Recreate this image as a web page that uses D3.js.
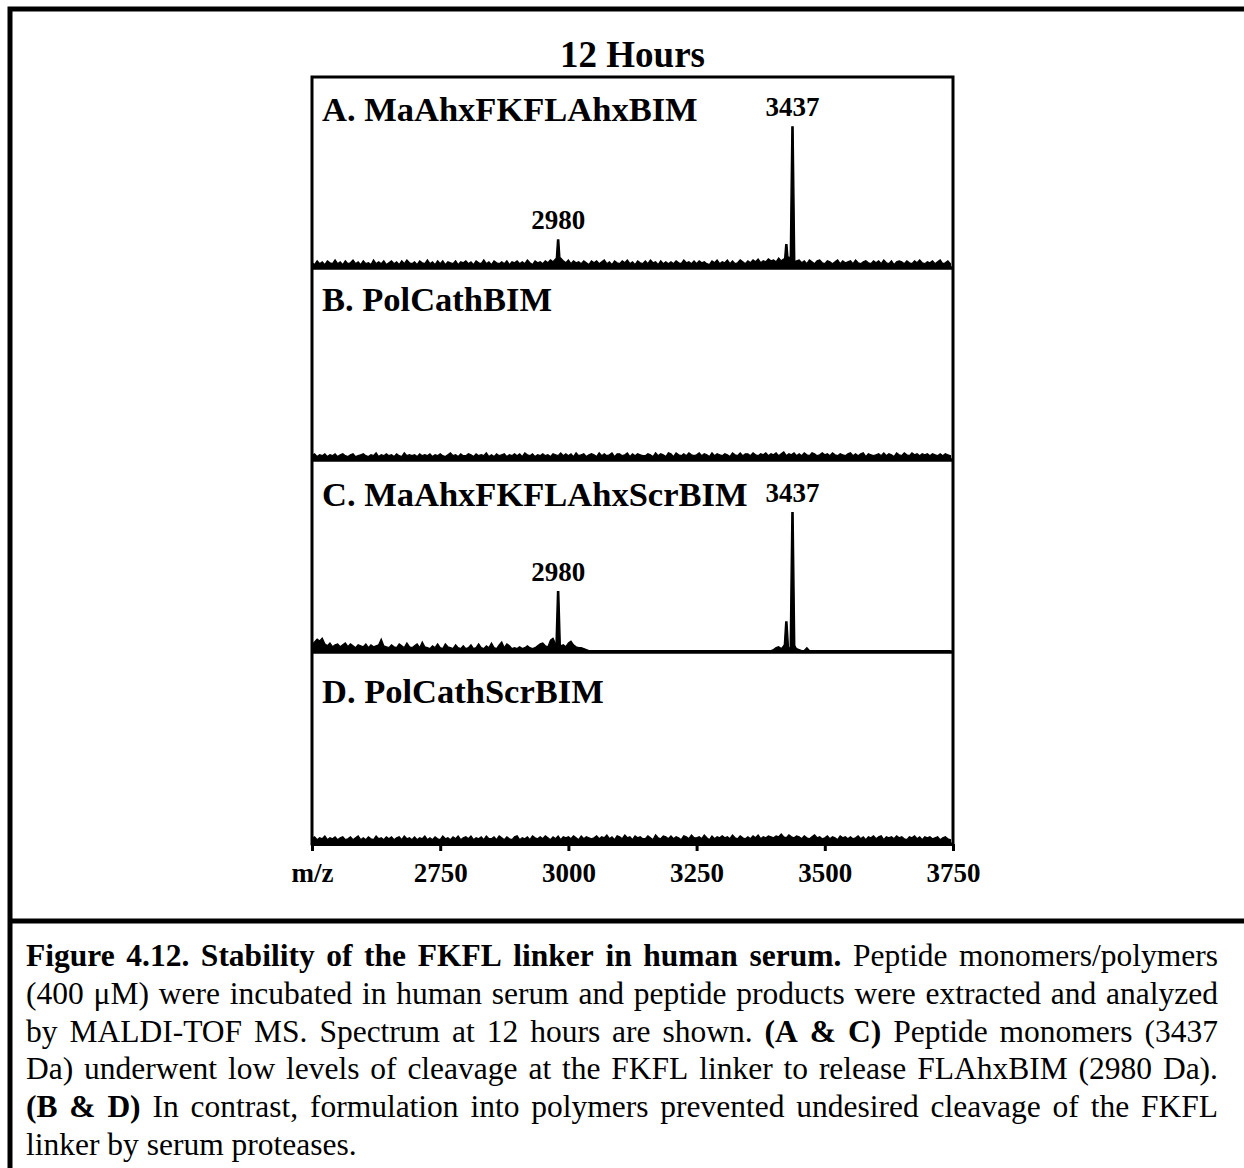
<!DOCTYPE html>
<html>
<head>
<meta charset="utf-8">
<script src="https://cdn.jsdelivr.net/npm/d3@7/dist/d3.min.js"></script>
<style>
  html, body { margin: 0; padding: 0; background: #fff; }
  svg { display: block; }
</style>
</head>
<body>
<svg id="fig" width="1244" height="1168"></svg>
<script>
// ---- Data ---------------------------------------------------------------
const title = "12 Hours";
const panelNames = ["A. MaAhxFKFLAhxBIM", "B. PolCathBIM", "C. MaAhxFKFLAhxScrBIM", "D. PolCathScrBIM"];

// m/z axis
const mzDomain = [2500, 3750];
const tickValues = [2500, 2750, 3000, 3250, 3500, 3750];
const tickLabels = ["m/z", "2750", "3000", "3250", "3500", "3750"];

// baseline signal, one sample every 5 m/z from 2500 (intensity, a.u.)
const noiseStart = 2500, noiseStep = 5;
const noiseA = [
  4,2,6,3,5,2,6,4,3,7, 3,5,2,6,3,4,7,3,5,2, 6,3,4,2,7,3,5,3,6,2, 4,6,3,5,2,6,3,7,4,3,
  5,2,6,4,3,7,3,5,2,6, 3,6,2,5,4,3,6,2,5,4, 6,3,5,2,6,4,3,7,3,5, 2,6,4,3,5,3,6,2,5,4,
  6,3,5,3,7,4,2,6,4,5, 3,6,4,7,5,8,5,9,6,4, 7,3,6,4,5,3,6,4,2,6, 4,6,3,5,7,3,5,2,6,4,
  3,6,4,7,3,5,2,6,4,3, 6,3,7,4,5,2,6,3,5,3, 5,3,6,4,3,7,4,5,3,6, 3,6,4,5,3,2,6,4,7,3,
  5,4,7,3,6,3,4,7,5,3, 6,4,7,5,8,4,6,5,8,6, 7,5,9,6,8,7,10,7,5,6, 7,4,6,3,7,5,3,6,7,4,
  3,6,5,3,5,7,3,6,4,5, 6,3,7,4,3,5,6,4,3,6, 4,6,3,7,4,3,6,2,5,6, 5,3,6,4,3,6,4,7,4,3,
  5,4,6,3,5,7,3,4,6,3
];
const noiseB = [
  3,5,2,4,3,5,2,4,3,5, 2,4,5,3,2,4,5,2,3,4, 5,3,2,4,3,6,2,4,3,5, 3,4,2,5,3,2,6,3,4,3,
  4,2,5,3,4,3,5,2,4,3, 5,3,2,4,6,3,4,2,5,3, 3,5,4,2,5,3,4,3,6,2, 4,2,5,3,4,5,2,4,3,5,
  3,5,2,6,4,3,5,2,4,3, 5,3,4,2,5,4,3,6,3,5, 3,5,2,6,3,4,5,2,4,5, 4,2,6,3,5,3,4,6,2,5,
  5,3,4,6,2,5,3,5,4,3, 3,5,4,2,6,3,5,4,2,6, 5,2,6,4,3,5,3,6,4,3, 4,6,3,5,4,2,6,3,5,4,
  3,5,4,2,6,4,3,6,3,5, 5,3,6,4,3,5,4,6,3,5, 4,6,3,5,7,3,5,4,6,3, 5,3,6,4,3,6,5,3,4,6,
  4,5,3,6,4,3,5,4,3,5, 6,3,5,3,5,6,2,5,4,3, 4,5,3,6,3,5,4,2,6,4, 3,6,4,3,6,4,5,3,5,4,
  5,3,5,4,3,5,3,5,4,3
];
const noiseC = [
  6,9,12,10,13,7,5,8,4,6, 7,4,6,8,4,7,5,3,6,5, 4,7,3,6,4,5,6,12,5,4, 3,6,4,3,7,5,3,8,4,3,
  5,7,3,9,4,3,2,5,3,7, 3,2,7,4,3,2,6,3,2,5, 2,3,6,2,3,7,3,2,5,3, 8,3,2,6,9,3,7,5,2,3,
  2,4,2,3,5,3,2,3,5,7, 8,5,4,11,13,7,3,5,6,4, 8,10,6,4,3,3,2,1,0,0, 0,0,0,0,0,0,0,0,0,0,
  0,0,0,0,0,0,0,0,0,0, 0,0,0,0,0,0,0,0,0,0, 0,0,0,0,0,0,0,0,0,0, 0,0,0,0,0,0,0,0,0,0,
  0,0,0,0,0,0,0,0,0,0, 0,0,0,0,0,0,0,0,0,0, 1,3,4,2,5,8,3,2,6,2, 1,0,0,3,0,0,0,0,0,0,
  0,0,0,0,0,0,0,0,0,0, 0,0,0,0,0,0,0,0,0,0, 0,0,0,0,0,0,0,0,0,0, 0,0,0,0,0,0,0,0,0,0,
  0,0,0,0,0,0,0,0,0,0
];
const noiseD = [
  4,6,3,5,4,7,3,5,4,6, 3,5,6,3,4,6,3,5,7,3, 5,3,6,4,3,7,4,5,3,6, 4,6,3,5,6,3,7,4,5,3,
  6,3,5,4,7,3,5,3,6,4, 3,7,4,5,3,6,4,7,3,5, 6,4,7,3,5,4,6,3,7,4, 4,6,3,7,5,3,6,4,3,6,
  7,3,5,4,6,3,7,5,4,6, 4,7,5,3,6,4,7,3,6,5, 6,4,7,5,3,7,4,6,5,4, 5,7,4,6,5,8,4,6,3,7,
  6,4,8,5,6,3,7,5,6,4, 4,7,5,3,8,5,4,7,6,4, 7,4,6,5,3,7,6,4,8,5, 5,6,4,8,5,3,7,4,6,5,
  7,5,6,4,8,5,4,7,5,4, 6,4,7,5,8,4,6,5,7,6, 5,7,6,9,6,5,8,6,5,7, 6,4,7,5,4,6,8,5,6,4,
  5,7,4,6,5,3,7,5,6,4, 6,4,5,7,4,6,3,6,5,7, 4,6,7,3,6,5,6,4,7,5, 6,4,3,6,5,7,4,6,3,6,
  5,6,4,5,6,3,5,6,4,3
];

// resolved peaks: [m/z, intensity, labelled]
const peaksA = [[2980, 28, true], [3425, 23, false], [3437, 147, true]];
const peaksB = [];
const peaksC = [[2980, 62, true], [3425, 30, false], [3437, 145, true]];
const peaksD = [];

const captionLines = [
  [["Figure 4.12. Stability of the FKFL linker in human serum.", true], ["Peptide monomers/polymers", false]],
  [["(400 \u03bcM) were incubated in human serum and peptide products were extracted and analyzed", false]],
  [["by MALDI-TOF MS. Spectrum at 12 hours are shown.", false], ["(A & C)", true], ["Peptide monomers (3437", false]],
  [["Da) underwent low levels of cleavage at the FKFL linker to release FLAhxBIM (2980 Da).", false]],
  [["(B & D)", true], ["In contrast, formulation into polymers prevented undesired cleavage of the FKFL", false]],
  [["linker by serum proteases.", false]]
];

// ---- Layout -------------------------------------------------------------
const serif = "'Liberation Serif', 'Times New Roman', serif";
const frame = { left: 312, right: 953, top: 77, panelH: 192 };
const labelOffsets = [44, 42, 45, 50];
const svg = d3.select("#fig");

const noiseSets = [noiseA, noiseB, noiseC, noiseD];
const peakSets = [peaksA, peaksB, peaksC, peaksD];

const x = d3.scaleLinear().domain(mzDomain).range([frame.left, frame.right]);

// outer figure border and caption divider
svg.append("path")
  .attr("d", "M10,1168 V9 H1244")
  .attr("fill", "none").attr("stroke", "#000").attr("stroke-width", 5);
svg.append("line")
  .attr("x1", 10).attr("x2", 1244).attr("y1", 921).attr("y2", 921)
  .attr("stroke", "#000").attr("stroke-width", 5);

// title
svg.append("text")
  .attr("x", (frame.left + frame.right) / 2).attr("y", 67)
  .attr("text-anchor", "middle")
  .attr("font-family", serif).attr("font-weight", "bold").attr("font-size", 37)
  .text(title);

const PEAK_HALF = 4.5; // half base width of a peak, m/z
const PEAK_TOP = 1.2;  // half width of a peak apex, m/z

panelNames.forEach((name, i) => {
  const bottom = frame.top - 1 + (i + 1) * frame.panelH;
  const zero = bottom - 1.5;
  const y = d3.scaleLinear().domain([0, 200]).range([zero, zero - 190]);
  const g = svg.append("g").attr("class", "panel");

  // baseline signal
  const samples = noiseSets[i].map((v, k) => ({ mz: noiseStart + k * noiseStep, v }));
  const area = d3.area().x(d => x(d.mz)).y0(zero).y1(d => y(d.v));
  g.append("path").datum(samples)
    .attr("d", area)
    .attr("fill", "#000").attr("stroke", "#000").attr("stroke-width", 1.2)
    .attr("stroke-linejoin", "miter");

  // peaks
  peakSets[i].forEach(([mz, h, labelled]) => {
    const pts = [
      { mz: mz - PEAK_HALF, v: 0 }, { mz: mz - PEAK_TOP, v: h },
      { mz: mz + PEAK_TOP, v: h }, { mz: mz + PEAK_HALF, v: 0 }
    ];
    g.append("path").datum(pts)
      .attr("d", area)
      .attr("fill", "#000").attr("stroke", "#000").attr("stroke-width", 1.4);
    if (labelled) {
      g.append("text")
        .attr("x", x(mz)).attr("y", y(h) - 11)
        .attr("text-anchor", "middle")
        .attr("font-family", serif).attr("font-weight", "bold").attr("font-size", 27)
        .text(String(mz));
    }
  });

  // panel name
  g.append("text")
    .attr("x", frame.left + 10).attr("y", frame.top + i * frame.panelH + labelOffsets[i])
    .attr("font-family", serif).attr("font-weight", "bold").attr("font-size", 34.5)
    .text(name);

  // separator below the panel
  if (i < panelNames.length - 1) {
    svg.append("line")
      .attr("x1", frame.left).attr("x2", frame.right)
      .attr("y1", bottom).attr("y2", bottom)
      .attr("stroke", "#000").attr("stroke-width", 3.4);
  }
});

const frameBottom = frame.top - 1 + panelNames.length * frame.panelH;

// frame
svg.append("rect")
  .attr("x", frame.left).attr("y", frame.top)
  .attr("width", frame.right - frame.left).attr("height", frameBottom - frame.top)
  .attr("fill", "none").attr("stroke", "#000").attr("stroke-width", 3);

// m/z axis
const axis = d3.axisBottom(x)
  .tickValues(tickValues)
  .tickSize(7)
  .tickSizeOuter(0)
  .tickFormat((d, k) => tickLabels[k]);
const ax = svg.append("g")
  .attr("transform", `translate(0,${frameBottom})`)
  .call(axis);
ax.select(".domain").attr("stroke-width", 3);
ax.selectAll(".tick line").attr("stroke-width", 3);
ax.selectAll(".tick text")
  .attr("y", 38).attr("dy", null)
  .attr("font-family", serif).attr("font-weight", "bold").attr("font-size", 27)
  .attr("fill", "#000");

// caption, justified between the margins
const capLeft = 26, capRight = 1218, capTop = 966, capLead = 37.8, capSize = 31.5;
const measure = svg.append("text")
  .attr("font-family", serif).attr("font-size", capSize).attr("visibility", "hidden");
function wordWidth(w, bold) {
  measure.attr("font-weight", bold ? "bold" : "normal").text(w);
  return measure.node().getComputedTextLength();
}
const spaceW = wordWidth("a a", false) - wordWidth("aa", false);

captionLines.forEach((segs, li) => {
  const words = [];
  segs.forEach(([txt, bold]) => {
    txt.split(" ").filter(s => s.length).forEach(w => words.push({ w, bold, width: wordWidth(w, bold) }));
  });
  const total = d3.sum(words, d => d.width);
  const last = li === captionLines.length - 1;
  const gap = last ? spaceW : (capRight - capLeft - total) / (words.length - 1);
  let cx = capLeft;
  const yy = capTop + li * capLead;
  words.forEach(d => {
    svg.append("text")
      .attr("x", cx).attr("y", yy)
      .attr("font-family", serif).attr("font-size", capSize)
      .attr("font-weight", d.bold ? "bold" : "normal")
      .text(d.w);
    cx += d.width + gap;
  });
});
measure.remove();
</script>
</body>
</html>
